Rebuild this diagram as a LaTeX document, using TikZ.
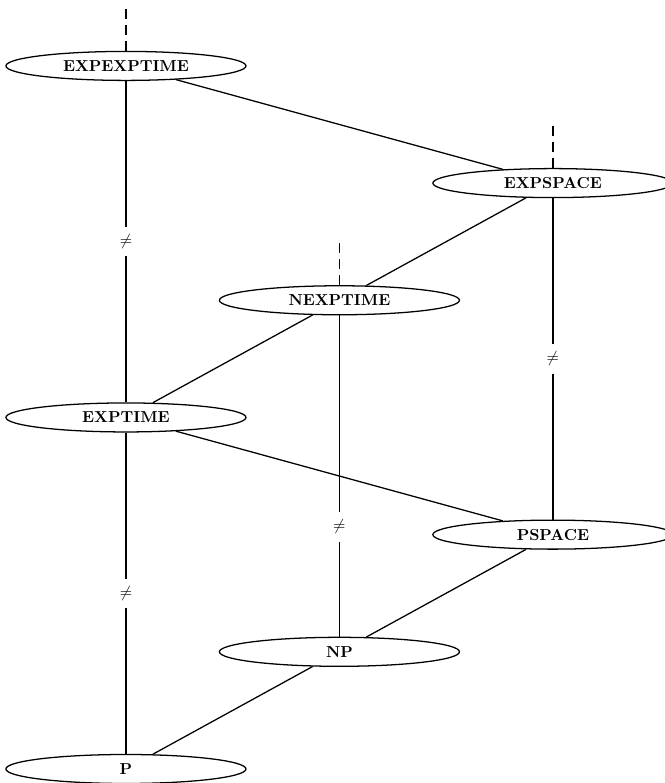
\documentclass[tikz,border=0pt]{standalone}
\usepackage{amsmath}
\usepackage{amssymb}
\usepackage{tikz}
\usetikzlibrary{shapes.geometric}

\begin{document}
\begin{tikzpicture}[
    cls/.style={ellipse,draw,thick,minimum width=5.3cm,minimum height=0.64cm,inner sep=0pt,font=\bfseries},
    neq/.style={inner xsep=2pt,inner ysep=4.6pt},
    open/.style={thick,dash pattern=on 6.3pt off 3.8pt},
    x=4.713cm, y=2.587cm
]
\useasboundingbox (-0.59,-0.1195) rectangle (2.5246,6.5625);

% Complexity classes
\node[cls] (expexp) at (0,6) {EXPEXPTIME};
\node[cls] (expspace) at (2,5) {EXPSPACE};
\node[cls] (nexp) at (1,4) {NEXPTIME};
\node[cls] (exp) at (0,3) {EXPTIME};
\node[cls] (pspace) at (2,2) {PSPACE};
\node[cls] (np) at (1,1) {NP};
\node[cls] (p) at (0,0) {P};

% Open ends at the top
\coordinate (upexpexp) at (0,6.5);
\coordinate (upexpspace) at (2,5.5);
\coordinate (upnexp) at (1,4.5);
\draw[open] (expexp) -- (upexpexp);
\draw[open] (expspace) -- (upexpspace);
\draw[open] (nexp) -- (upnexp);

% Inclusions
\draw[thick] (expexp) -- (expspace);
\draw[thick] (expspace) -- (nexp);
\draw[thick] (nexp) -- (exp);
\draw[thick] (exp) -- (pspace);
\draw[thick] (pspace) -- (np);
\draw[thick] (np) -- (p);

% Strict separations (hierarchy theorems)
\node[neq] (ne1) at (0,4.5) {$\neq$};
\node[neq] (ne2) at (2,3.5) {$\neq$};
\node[neq] (ne3) at (1,2.065) {$\neq$};
\node[neq] (ne4) at (0,1.5) {$\neq$};
\draw[thick] (expexp) -- (ne1) -- (exp);
\draw[thick] (expspace) -- (ne2) -- (pspace);
\draw[thick] (nexp) -- (ne3) -- (np);
\draw[thick] (exp) -- (ne4) -- (p);

\end{tikzpicture}
\end{document}
